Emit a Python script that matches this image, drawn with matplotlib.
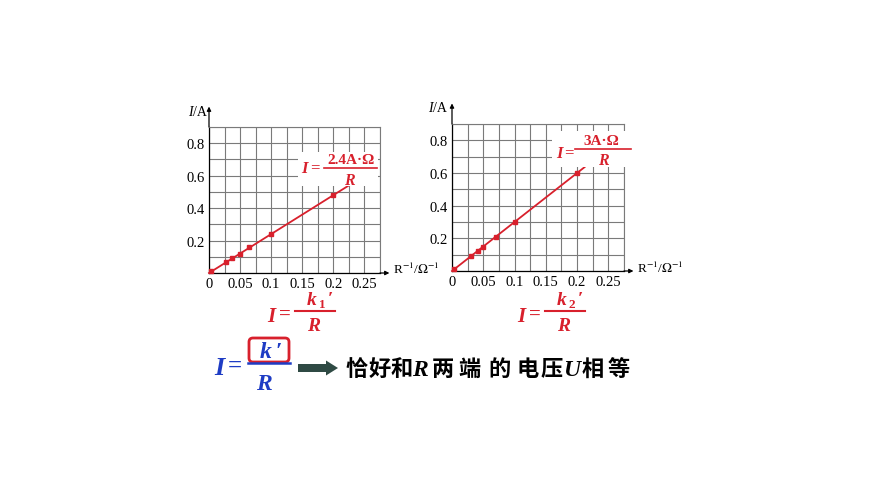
import matplotlib
matplotlib.use("Agg")
import matplotlib.pyplot as plt
import numpy as np
from matplotlib.patches import FancyBboxPatch, FancyArrow
from matplotlib.lines import Line2D

plt.rcParams['font.family'] = ['Liberation Serif', 'DejaVu Serif']
plt.rcParams['mathtext.fontset'] = 'stix'

RED = '#d8202c'
BLUE = '#1e3cc4'
ARROWC = '#2f4a44'

# data
x_ticks = [0, 0.05, 0.1, 0.15, 0.2, 0.25]
x_tick_labels = ['0', '0.05', '0.1', '0.15', '0.2', '0.25']
y_ticks = [0.2, 0.4, 0.6, 0.8]
y_tick_labels = ['0.2', '0.4', '0.6', '0.8']

left_x = [0.003, 0.028, 0.037, 0.05, 0.065, 0.1, 0.2]
left_y = [0.01, 0.07, 0.09, 0.12, 0.16, 0.24, 0.48]
left_fit_x = [0.0, 0.225]
left_fit_y = [0.0, 0.54]

right_x = [0.003, 0.03, 0.042, 0.05, 0.07, 0.1, 0.2]
right_y = [0.01, 0.09, 0.12, 0.15, 0.21, 0.30, 0.60]
right_fit_x = [0.0, 0.212]
right_fit_y = [0.0, 0.636]

sentence_chars = ['恰', '好', '和', 'R', '两', '端', '的', '电', '压', 'U', '相', '等']

W, H = 870, 489
fig = plt.figure(figsize=(W / 100, H / 100), dpi=100)
fig.patch.set_facecolor('white')


def px_axes(x0, x1, ytop, ybot):
    return fig.add_axes([x0 / W, 1 - ybot / H, (x1 - x0) / W, (ybot - ytop) / H])


def setup(ax, xs, ys, fx, fy):
    ax.set_xlim(0, 0.275)
    ax.set_ylim(0, 0.9)
    ax.set_xticks(np.arange(0, 0.2751, 0.025), minor=True)
    ax.set_yticks(np.arange(0, 0.901, 0.1), minor=True)
    ax.set_xticks(x_ticks)
    ax.set_xticklabels(x_tick_labels)
    ax.set_yticks(y_ticks)
    ax.set_yticklabels(y_tick_labels)
    ax.tick_params(which='both', length=0, labelsize=10.5, pad=3)
    ax.grid(which='both', color='#7a7a7a', lw=0.8)
    ax.set_axisbelow(True)
    for s in ['top', 'right']:
        ax.spines[s].set_color('#7a7a7a')
        ax.spines[s].set_linewidth(0.8)
    for s in ['left', 'bottom']:
        ax.spines[s].set_color('black')
        ax.spines[s].set_linewidth(0.9)
    ax.plot(fx, fy, color=RED, lw=1.3, zorder=3, clip_on=False)
    ax.plot(xs, ys, 's', color=RED, ms=3.2, zorder=4, clip_on=False)
    ax.annotate('', xy=(0, 1.14), xytext=(0, 1.0), xycoords='axes fraction',
                arrowprops=dict(arrowstyle='-|>', color='black', lw=0.9,
                                mutation_scale=6, shrinkA=0, shrinkB=0))
    ax.annotate('', xy=(1.055, 0), xytext=(1.0, 0), xycoords='axes fraction',
                arrowprops=dict(arrowstyle='-|>', color='black', lw=0.9,
                                mutation_scale=6, shrinkA=0, shrinkB=0))


axL = px_axes(209, 380, 128, 274)
setup(axL, left_x, left_y, left_fit_x, left_fit_y)
axR = px_axes(452, 624, 125, 272)
setup(axR, right_x, right_y, right_fit_x, right_fit_y)

ov = fig.add_axes([0, 0, 1, 1], zorder=10)
ov.set_xlim(0, W)
ov.set_ylim(H, 0)
ov.axis('off')
ov.patch.set_alpha(0)

# axis labels
ov.text(188, 112, 'I', style='italic', fontsize=10, ha='left', va='center')
ov.text(193, 112, '/A', fontsize=10, ha='left', va='center')
ov.text(428, 109, 'I', style='italic', fontsize=10, ha='left', va='center')
ov.text(433, 109, '/A', fontsize=10, ha='left', va='center')
ov.text(393, 269, r'R$^{-1}$/$\Omega^{-1}$', fontsize=9.5, ha='left', va='center')
ov.text(637, 268, r'R$^{-1}$/$\Omega^{-1}$', fontsize=9.5, ha='left', va='center')


def t(x, y, s, size, color, ha='center', it=True, va='baseline'):
    ov.text(x, y, s, fontsize=size, color=color, ha=ha, va=va,
            style='italic' if it else 'normal', fontweight='bold')


# chart equations
ov.add_patch(plt.Rectangle((298, 153), 80, 34, facecolor='white', edgecolor='none'))
t(304, 173, 'I', 12, RED)
t(315, 172, '=', 12, RED, it=False)
ov.add_line(Line2D([324, 377], [168.5, 168.5], color=RED, lw=1.2))
t(351, 163.5, '2.4A·Ω', 11, RED, it=False)
t(349, 185, 'R', 11.5, RED)

ov.add_patch(plt.Rectangle((552, 132), 80, 36, facecolor='white', edgecolor='none'))
t(559, 158, 'I', 12, RED)
t(569, 157, '=', 12, RED, it=False)
ov.add_line(Line2D([575, 631], [150, 150], color=RED, lw=1.2))
t(601, 145, '3A·Ω', 11, RED, it=False)
t(603, 165, 'R', 11.5, RED)

# bottom red equations
for (dx, sub) in [(0, '1'), (250, '2')]:
    t(271 + dx, 322, 'I', 15, RED)
    t(285 + dx, 320, '=', 15, RED, it=False)
    ov.add_line(Line2D([295 + dx, 335 + dx], [312, 312], color=RED, lw=1.5))
    t(312 + dx, 305, 'k', 14, RED)
    t(322 + dx, 308, sub, 9.5, RED, it=False)
    t(330 + dx, 305, '′', 14, RED, it=False)
    t(314 + dx, 331, 'R', 14, RED)

# blue equation
t(219, 375, 'I', 19, BLUE)
t(235, 373, '=', 18, BLUE, it=False)
ov.add_line(Line2D([248, 290], [364, 364], color=BLUE, lw=1.8))
t(266, 358, 'k', 17, BLUE)
t(279, 358, '′', 17, BLUE, it=False)
t(264, 390, 'R', 17, BLUE)
ov.add_patch(FancyBboxPatch((249, 339), 40, 24, boxstyle='round,pad=0,rounding_size=4',
                            facecolor='none', edgecolor=RED, lw=2.0))

# fat arrow
ov.add_patch(FancyArrow(298, 369, 28, 0, width=8, head_width=15, head_length=12,
                        length_includes_head=False, color=ARROWC, lw=0))

# Chinese sentence, each character placed at its measured centre
CJK = ['Noto Sans CJK SC', 'DejaVu Sans']
centers = [357, 380, 402, 420, 443, 470, 500, 528, 552, 572, 593, 619]
for ch, cx in zip(sentence_chars, centers):
    if ch in ('R', 'U'):
        ov.text(cx, 370, ch, fontsize=17, style='italic', fontweight='bold',
                ha='center', va='center')
    else:
        ov.text(cx, 369, ch, fontsize=16, family=CJK, fontweight='bold',
                ha='center', va='center')

fig.savefig('out.png', dpi=100, facecolor='white')
